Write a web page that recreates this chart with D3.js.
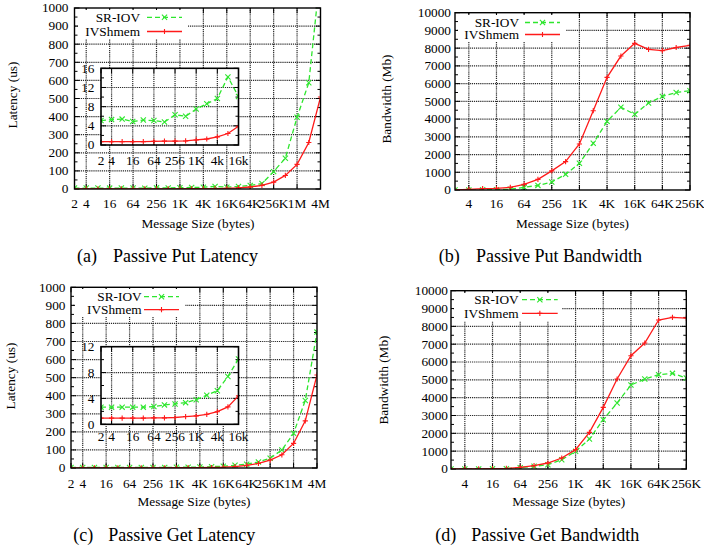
<!DOCTYPE html>
<html>
<head>
<meta charset="utf-8">
<script src="https://cdn.jsdelivr.net/npm/d3@7"></script>
<style>
  body { margin: 0; background: #fff; }
  svg text { font-family: "Liberation Serif", "Times New Roman", serif; fill: #000; }
</style>
</head>
<body>
<div class="content"></div>
<script>
//--> Data: message sizes (bytes)
const latencySizes = [2, 4, 8, 16, 32, 64, 128, 256, 512, 1024, 2048, 4096, 8192, 16384,
  32768, 65536, 131072, 262144, 524288, 1048576, 2097152, 4194304];
const bandwidthSizes = [2, 4, 8, 16, 32, 64, 128, 256, 512, 1024, 2048, 4096, 8192, 16384,
  32768, 65536, 131072, 262144];
const insetSizes = [2, 4, 8, 16, 32, 64, 128, 256, 512, 1024, 2048, 4096, 8192, 16384];

//--> Data: latency (us)
const putLatencySriov = [5.1, 5.3, 5.4, 4.9, 5.2, 5.1, 4.8, 6.3, 6.0, 7.5, 8.6, 9.7, 14.2, 10.1,
  14, 20, 30, 96, 170, 396, 587, 1200];
const putLatencyIvshmem = [0.7, 0.7, 0.7, 0.7, 0.7, 0.75, 0.8, 0.8, 0.85, 1.05, 1.25, 1.7, 2.4, 3.9,
  6, 11, 20, 38, 75, 136, 257, 508];
const getLatencySriov = [2.65, 2.65, 2.65, 2.65, 2.65, 2.75, 3.0, 3.15, 3.35, 3.8, 4.5, 5.2, 7.4, 10.1,
  15, 21, 33, 54, 100, 192, 374, 752];
const getLatencyIvshmem = [0.95, 0.95, 0.95, 0.95, 0.95, 1.0, 1.0, 1.05, 1.2, 1.3, 1.55, 1.95, 2.7, 4.4,
  8, 15, 25, 44, 73, 136, 261, 515];

//--> Data: bandwidth (Mb)
const putBandwidthSriov = [0, 5, 10, 20, 40, 150, 260, 450, 883, 1504, 2632, 3870, 4663, 4268,
  4905, 5280, 5500, 5600];
const putBandwidthIvshmem = [0, 40, 75, 94, 150, 320, 600, 1080, 1600, 2594, 4474, 6355, 7556, 8272,
  7933, 7857, 8037, 8160];
const getBandwidthSriov = [0, 0, 5, 10, 20, 75, 150, 243, 523, 990, 1682, 2766, 3700, 4710,
  5047, 5290, 5364, 5103];
const getBandwidthIvshmem = [0, 5, 10, 20, 30, 93, 187, 336, 617, 1084, 2056, 3458, 5047, 6355,
  7065, 8355, 8505, 8467];

//--> Tick labels
const latencyTickValues = [2, 4, 16, 64, 256, 1024, 4096, 16384, 65536, 262144, 1048576, 4194304];
const latencyTickLabels = ["2", "4", "16", "64", "256", "1K", "4K", "16K", "64K", "256K", "1M", "4M"];
const bandwidthTickValues = [4, 16, 64, 256, 1024, 4096, 16384, 65536, 262144];
const bandwidthTickLabels = ["4", "16", "64", "256", "1K", "4K", "16K", "64K", "256K"];
const insetTickValues = [2, 4, 16, 64, 256, 1024, 4096, 16384];
const insetTickLabels = ["2", "4", "16", "64", "256", "1K", "4k", "16k"];
const latencyYTicks = [0, 100, 200, 300, 400, 500, 600, 700, 800, 900, 1000];
const bandwidthYTicks = [0, 1000, 2000, 3000, 4000, 5000, 6000, 7000, 8000, 9000, 10000];
const insetPutYTicks = [0, 4, 8, 12, 16];
const insetGetYTicks = [0, 4, 8, 12];
const seriesNames = ["SR-IOV", "IVShmem"];

//--> Constants
const width = 704;
const height = 548;
const tickFont = 13.3;
const green = "#2ee62e";
const red = "#ff1a1a";
const gridColor = "#2a2a2a";

const svg = d3
  .select(".content")
  .append("svg")
  .attr("width", width)
  .attr("height", height);

const defs = svg.append("defs");
let clipCount = 0;

//--> Helper: frame with grid, ticks, labels
function drawFrame(g, o) {
  const x = d3.scaleLog().base(2).domain(o.xDomain).range([o.left, o.right]);
  const y = d3.scaleLinear().domain(o.yDomain).range([o.bottom, o.top]);

  if (o.background) {
    g.append("rect")
      .attr("x", o.left).attr("y", o.top)
      .attr("width", o.right - o.left).attr("height", o.bottom - o.top)
      .attr("fill", "#fff");
  }

  const eps = 0.5;
  const grid = g.append("g").attr("stroke", gridColor).attr("stroke-width", 1.2)
    .attr("stroke-dasharray", "1.2,0.9");
  grid.selectAll(".gx")
    .data(o.xTicks.filter(d => Math.abs(x(d) - o.left) > eps && Math.abs(x(d) - o.right) > eps))
    .enter().append("line")
    .attr("x1", d => x(d)).attr("x2", d => x(d))
    .attr("y1", o.top).attr("y2", o.bottom);
  grid.selectAll(".gy")
    .data(o.yTicks.filter(d => Math.abs(y(d) - o.top) > eps && Math.abs(y(d) - o.bottom) > eps))
    .enter().append("line")
    .attr("x1", o.left).attr("x2", o.right)
    .attr("y1", d => y(d)).attr("y2", d => y(d));

  //--> inward tick marks on all sides
  const ticks = g.append("g").attr("stroke", "#000").attr("stroke-width", 1);
  o.xTicks.forEach(d => {
    ticks.append("line").attr("x1", x(d)).attr("x2", x(d)).attr("y1", o.bottom).attr("y2", o.bottom - 5);
    ticks.append("line").attr("x1", x(d)).attr("x2", x(d)).attr("y1", o.top).attr("y2", o.top + 5);
  });
  o.yTicks.forEach(d => {
    ticks.append("line").attr("x1", o.left).attr("x2", o.left + 5).attr("y1", y(d)).attr("y2", y(d));
    ticks.append("line").attr("x1", o.right).attr("x2", o.right - 5).attr("y1", y(d)).attr("y2", y(d));
  });
  const minor = [];
  for (let i = 0; i < o.yTicks.length - 1; i++) {
    minor.push((o.yTicks[i] + o.yTicks[i + 1]) / 2);
  }
  minor.forEach(d => {
    ticks.append("line").attr("x1", o.left).attr("x2", o.left + 3).attr("y1", y(d)).attr("y2", y(d));
    ticks.append("line").attr("x1", o.right).attr("x2", o.right - 3).attr("y1", y(d)).attr("y2", y(d));
  });

  //--> tick labels
  g.append("g").selectAll("text")
    .data(o.xTicks)
    .enter().append("text")
    .attr("x", d => x(d))
    .attr("y", o.xLabelY)
    .attr("text-anchor", "middle")
    .attr("font-size", `${tickFont}px`)
    .text((d, i) => o.xLabels[i]);

  g.append("g").selectAll("text")
    .data(o.yTicks)
    .enter().append("text")
    .attr("x", o.left - o.yLabelGap)
    .attr("y", d => y(d))
    .attr("dy", "0.33em")
    .attr("text-anchor", "end")
    .attr("font-size", `${tickFont}px`)
    .text(d => d);

  return { x, y };
}

function drawBorder(g, o, w) {
  g.append("rect")
    .attr("x", o.left).attr("y", o.top)
    .attr("width", o.right - o.left).attr("height", o.bottom - o.top)
    .attr("fill", "none").attr("stroke", "#000").attr("stroke-width", w);
}

function markerPath(type, cx, cy, r) {
  if (type === "x") {
    return `M${cx - r},${cy - r}L${cx + r},${cy + r}M${cx - r},${cy + r}L${cx + r},${cy - r}`;
  }
  return `M${cx - r},${cy}L${cx + r},${cy}M${cx},${cy - r}L${cx},${cy + r}`;
}

function drawSeries(g, scales, o, sizes, values, color, dashed, marker) {
  const id = `clip${clipCount++}`;
  defs.append("clipPath").attr("id", id).append("rect")
    .attr("x", o.left).attr("y", o.top)
    .attr("width", o.right - o.left).attr("height", o.bottom - o.top);

  const pts = sizes.map((s, i) => ({ s, v: values[i] }));
  const line = d3.line().x(d => scales.x(d.s)).y(d => scales.y(d.v));
  const sg = g.append("g").attr("clip-path", `url(#${id})`);
  sg.append("path")
    .datum(pts)
    .attr("d", line)
    .attr("fill", "none")
    .attr("stroke", color)
    .attr("stroke-width", 1.3)
    .attr("stroke-dasharray", dashed ? "5,3" : null);
  sg.selectAll(".pt")
    .data(pts)
    .enter().append("path")
    .attr("d", d => markerPath(marker, scales.x(d.s), scales.y(d.v), 2.6))
    .attr("stroke", color)
    .attr("stroke-width", 1.1);
}

function drawLegend(g, lg) {
  g.append("rect")
    .attr("x", lg.boxX).attr("y", lg.boxY)
    .attr("width", lg.boxW).attr("height", lg.boxH)
    .attr("fill", "#fff");
  const items = [
    { name: seriesNames[0], color: green, dashed: true, marker: "x", y: lg.y1 },
    { name: seriesNames[1], color: red, dashed: false, marker: "+", y: lg.y2 }
  ];
  items.forEach(it => {
    g.append("text")
      .attr("x", lg.textX).attr("y", it.y).attr("dy", "0.33em")
      .attr("text-anchor", "end")
      .attr("font-size", `${tickFont}px`)
      .text(it.name);
    g.append("line")
      .attr("x1", lg.lineX1).attr("x2", lg.lineX2)
      .attr("y1", it.y).attr("y2", it.y)
      .attr("stroke", it.color).attr("stroke-width", 1.3)
      .attr("stroke-dasharray", it.dashed ? "5,3" : null);
    g.append("path")
      .attr("d", markerPath(it.marker, (lg.lineX1 + lg.lineX2) / 2, it.y, 2.6))
      .attr("stroke", it.color).attr("stroke-width", 1.1);
  });
}

function drawTitles(g, t) {
  g.append("text")
    .attr("x", t.xTitleX).attr("y", t.xTitleY)
    .attr("text-anchor", "middle")
    .attr("font-size", `${tickFont}px`)
    .text("Message Size (bytes)");
  g.append("text")
    .attr("transform", `translate(${t.yTitleX}, ${t.yTitleY}) rotate(-90)`)
    .attr("text-anchor", "middle")
    .attr("dy", "0.33em")
    .attr("font-size", `${tickFont}px`)
    .text(t.yTitle);
  g.append("text")
    .attr("x", t.capX).attr("y", t.capY)
    .attr("font-size", "18px")
    .text(t.capTag);
  g.append("text")
    .attr("x", t.capTextX).attr("y", t.capY)
    .attr("font-size", "18px")
    .text(t.caption);
}

//--> Panel descriptions
const panels = [
  {
    frame: { left: 74.5, right: 320.5, top: 8, bottom: 189, xDomain: [2, 4194304], yDomain: [0, 1000],
      xTicks: latencyTickValues, xLabels: latencyTickLabels, yTicks: latencyYTicks, xLabelY: 208, yLabelGap: 6 },
    sizes: latencySizes, sriov: putLatencySriov, ivshmem: putLatencyIvshmem,
    legend: { boxX: 78, boxY: 10, boxW: 110, boxH: 29, textX: 140, lineX1: 147, lineX2: 182, y1: 17.3, y2: 31.5 },
    inset: { left: 101, right: 238.5, top: 68.3, bottom: 145, xDomain: [2, 16384], yDomain: [0, 16],
      xTicks: insetTickValues, xLabels: insetTickLabels, yTicks: insetPutYTicks, xLabelY: 164.5, yLabelGap: 6.5,
      background: true },
    titles: { xTitleX: 198, xTitleY: 228, yTitleX: 13, yTitleY: 95, yTitle: "Latency (us)",
      capX: 77, capTextX: 113, capY: 262, capTag: "(a)", caption: "Passive Put Latency" }
  },
  {
    frame: { left: 455, right: 690, top: 12.7, bottom: 190, xDomain: [2, 262144], yDomain: [0, 10000],
      xTicks: bandwidthTickValues, xLabels: bandwidthTickLabels, yTicks: bandwidthYTicks, xLabelY: 208, yLabelGap: 4 },
    sizes: bandwidthSizes, sriov: putBandwidthSriov, ivshmem: putBandwidthIvshmem,
    legend: { boxX: 458, boxY: 15, boxW: 108, boxH: 27, textX: 519, lineX1: 525, lineX2: 560, y1: 22.5, y2: 34.5 },
    titles: { xTitleX: 572.5, xTitleY: 228, yTitleX: 387, yTitleY: 99, yTitle: "Bandwidth (Mb)",
      capX: 438.7, capTextX: 476, capY: 262, capTag: "(b)", caption: "Passive Put Bandwidth" }
  },
  {
    frame: { left: 71, right: 317, top: 287.3, bottom: 468, xDomain: [2, 4194304], yDomain: [0, 1000],
      xTicks: latencyTickValues, xLabels: latencyTickLabels, yTicks: latencyYTicks, xLabelY: 487.5, yLabelGap: 5.5 },
    sizes: latencySizes, sriov: getLatencySriov, ivshmem: getLatencyIvshmem,
    legend: { boxX: 75, boxY: 289, boxW: 110, boxH: 28, textX: 141.7, lineX1: 144, lineX2: 179, y1: 296.7, y2: 309.7 },
    inset: { left: 101, right: 238.5, top: 346.7, bottom: 424.3, xDomain: [2, 16384], yDomain: [0, 12],
      xTicks: insetTickValues, xLabels: insetTickLabels, yTicks: insetGetYTicks, xLabelY: 440.5, yLabelGap: 6.5,
      background: true },
    titles: { xTitleX: 194, xTitleY: 506, yTitleX: 10.5, yTitleY: 376, yTitle: "Latency (us)",
      capX: 73.3, capTextX: 108.3, capY: 540.5, capTag: "(c)", caption: "Passive Get Latency" }
  },
  {
    frame: { left: 451, right: 686.3, top: 290.7, bottom: 469, xDomain: [2, 262144], yDomain: [0, 10000],
      xTicks: bandwidthTickValues, xLabels: bandwidthTickLabels, yTicks: bandwidthYTicks, xLabelY: 487.5, yLabelGap: 3 },
    sizes: bandwidthSizes, sriov: getBandwidthSriov, ivshmem: getBandwidthIvshmem,
    legend: { boxX: 454, boxY: 293, boxW: 108, boxH: 28, textX: 518.7, lineX1: 522, lineX2: 557.7, y1: 299.7, y2: 313.3 },
    titles: { xTitleX: 568.7, xTitleY: 506, yTitleX: 383.7, yTitleY: 380, yTitle: "Bandwidth (Mb)",
      capX: 435.3, capTextX: 471.3, capY: 540.5, capTag: "(d)", caption: "Passive Get Bandwidth" }
  }
];

//--> Draw
panels.forEach(p => {
  const g = svg.append("g");
  const main = drawFrame(g, p.frame);
  drawSeries(g, main, p.frame, p.sizes, p.sriov, green, true, "x");
  drawSeries(g, main, p.frame, p.sizes, p.ivshmem, red, false, "+");
  drawLegend(g, p.legend);

  if (p.inset) {
    const n = insetSizes.length;
    const ins = drawFrame(g, p.inset);
    drawSeries(g, ins, p.inset, insetSizes, p.sriov.slice(0, n), green, true, "x");
    drawSeries(g, ins, p.inset, insetSizes, p.ivshmem.slice(0, n), red, false, "+");
    drawBorder(g, p.inset, 1.6);
  }

  drawBorder(g, p.frame, 1.4);
  drawTitles(g, p.titles);
});
</script>
</body>
</html>
